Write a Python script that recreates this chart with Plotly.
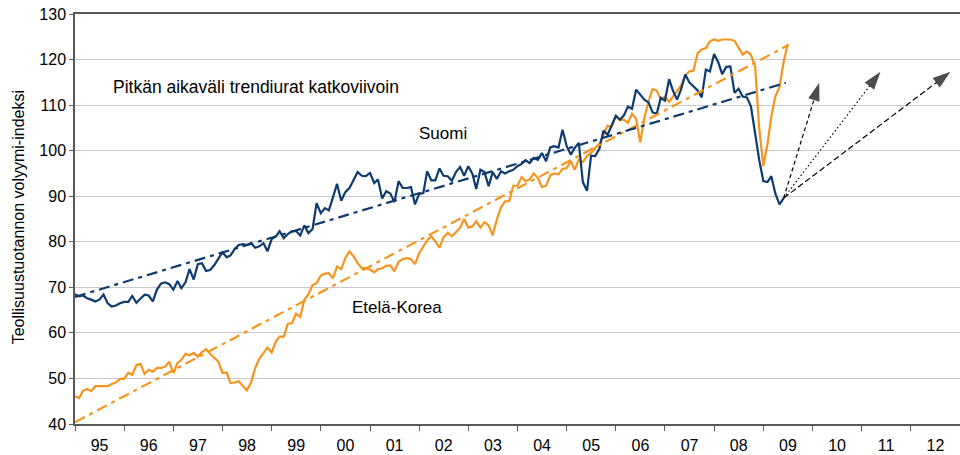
import pandas as pd
import plotly.graph_objects as go

# ---------------- data ----------------
start_month = "1995-01-01"

finland_values = [
    68.5, 68.0, 68.2, 67.6, 67.3, 66.9, 67.3, 68.4, 66.5, 65.8, 66.0, 66.5,
    66.8, 66.8, 68.1, 66.6, 67.5, 68.4, 68.2, 66.9, 69.5, 70.8, 71.1, 70.7,
    69.5, 71.4, 69.8, 71.1, 74.0, 71.7, 75.1, 75.3, 73.6, 73.8, 74.9, 76.2,
    77.7, 76.6, 77.0, 78.4, 79.3, 79.5, 79.3, 79.7, 78.7, 79.0, 79.7, 77.9,
    80.6, 81.2, 82.3, 80.8, 81.7, 82.3, 82.4, 81.4, 83.6, 81.9, 82.8, 88.5,
    86.3, 87.4, 86.9, 89.8, 92.7, 89.0, 90.9, 91.8, 93.7, 95.3, 94.5, 94.4,
    95.1, 92.9, 93.7, 89.5, 91.1, 90.6, 88.7, 93.3, 91.8, 91.8, 92.0, 88.2,
    90.5, 90.7, 95.5, 93.5, 93.5, 96.1, 94.5, 94.4, 93.4, 95.3, 96.4, 94.5,
    96.6, 94.9, 91.6, 95.8, 95.3, 92.2, 95.3, 93.8, 95.5, 95.0, 95.5, 95.8,
    96.6, 97.1, 97.9, 97.3, 98.4, 98.0, 99.5, 97.7, 100.7, 101.0, 100.7, 104.6,
    101.0, 99.1, 100.6, 101.7, 93.1, 91.2, 98.9, 98.8, 100.4, 104.4, 103.5, 105.5,
    107.7, 106.8, 107.7, 109.7, 109.2, 113.4, 112.3, 111.2, 110.6, 108.4, 108.1, 111.6,
    111.0, 115.7, 113.2, 111.2, 113.5, 116.7, 115.0, 114.1, 113.2, 111.7, 117.8, 117.4,
    121.2, 119.4, 116.8, 118.4, 118.5, 112.7, 113.6, 111.9, 111.7, 109.7, 103.9, 98.0,
    93.3, 93.1, 94.4, 90.5, 88.2, 89.6,
]

korea_values = [
    46.1, 45.7, 47.3, 47.7, 47.2, 48.3, 48.3, 48.3, 48.3, 48.8, 49.1, 49.9,
    49.9, 51.2, 50.8, 52.9, 53.2, 51.0, 51.9, 51.5, 52.3, 52.3, 52.6, 53.7,
    51.2, 53.4, 54.1, 55.4, 55.1, 55.6, 54.8, 55.8, 56.4, 55.4, 54.6, 53.7,
    51.2, 51.3, 49.0, 49.1, 49.4, 48.4, 47.4, 49.1, 52.3, 54.3, 55.7, 56.8,
    55.7, 58.1, 59.2, 59.2, 62.0, 62.1, 64.2, 63.5, 67.3, 68.5, 70.5, 70.9,
    72.6, 73.0, 73.1, 72.0, 74.6, 74.0, 76.4, 77.9, 76.8, 75.3, 74.2, 74.2,
    73.9, 73.3, 74.0, 74.2, 74.7, 74.8, 73.5, 75.6, 76.2, 76.4, 76.2, 75.1,
    77.5, 79.0, 80.3, 81.2, 80.1, 78.7, 81.0, 82.0, 81.2, 82.1, 83.1, 85.0,
    83.1, 83.4, 84.5, 83.1, 84.3, 83.6, 81.4, 84.9, 87.6, 88.9, 88.9, 92.3,
    92.3, 94.2, 93.3, 93.7, 95.0, 94.0, 92.0, 92.3, 94.6, 95.0, 94.8, 96.0,
    96.2, 97.7, 95.8, 98.0, 97.5, 98.8, 99.5, 100.6, 101.5, 103.5, 105.5, 105.2,
    107.5, 106.7, 106.8, 106.1, 108.1, 107.0, 101.8, 107.2, 110.8, 113.5, 113.2, 111.2,
    111.9, 110.7, 111.9, 113.2, 114.3, 116.5, 117.4, 117.6, 121.4, 122.2, 122.5, 124.0,
    124.4, 124.1, 124.4, 124.4, 124.4, 124.1, 122.5, 121.1, 121.8, 121.0, 118.5, 105.0,
    96.6, 101.5, 107.5, 112.0, 114.0, 119.5, 123.4,
]

# long-term trend lines (start / end)
finland_trend_dates = ["1995-01-01", "2009-06-17"]
finland_trend_values = [67.9, 114.9]
korea_trend_dates = ["1995-01-01", "2009-07-08"]
korea_trend_values = [40.4, 123.2]

# recovery scenario arrows (end points; start at Finland's last value)
arrow_end_dates = ["2010-02-20", "2011-05-21", "2012-10-23"]
arrow_end_values = [114.9, 117.3, 117.3]
arrow_dashes = ["4px,3px", "1.5px,2.5px", "6px,3px"]

year_tick_labels_fmt = "%y"
y_axis_title = "Teollisuustuotannon volyymi-indeksi"
label_note = "Pitkän aikaväli trendiurat katkoviivoin"
label_fi = "Suomi"
label_kr = "Etelä-Korea"

# ---------------- figure ----------------
BLUE = "#0d3b6e"
ORANGE = "#f7941e"
AXIS = "#595959"
FONT = "Liberation Sans, Arial, sans-serif"

fi_dates = pd.date_range(start_month, periods=len(finland_values), freq="MS")
kr_dates = pd.date_range(start_month, periods=len(korea_values), freq="MS")

fig = go.Figure()

fig.add_trace(go.Scatter(x=kr_dates, y=korea_values, mode="lines",
                         line=dict(color=ORANGE, width=2.2), hoverinfo="skip"))
fig.add_trace(go.Scatter(x=fi_dates, y=finland_values, mode="lines",
                         line=dict(color=BLUE, width=2.2), hoverinfo="skip"))
fig.add_trace(go.Scatter(x=korea_trend_dates, y=korea_trend_values, mode="lines",
                         line=dict(color=ORANGE, width=2.2, dash="11px,5px,4px,5px"),
                         hoverinfo="skip"))
fig.add_trace(go.Scatter(x=finland_trend_dates, y=finland_trend_values, mode="lines",
                         line=dict(color=BLUE, width=2.2, dash="11px,5px,4px,5px"),
                         hoverinfo="skip"))

arrow_start_date = fi_dates[-1]
arrow_start_value = finland_values[-1]
for d, v, dash in zip(arrow_end_dates, arrow_end_values, arrow_dashes):
    fig.add_trace(go.Scatter(
        x=[arrow_start_date, pd.Timestamp(d)], y=[arrow_start_value, v],
        mode="lines+markers",
        line=dict(color="black", width=1.2, dash=dash),
        marker=dict(symbol="arrow", angleref="previous", size=[0, 19],
                    color="black", line=dict(width=0)),
        hoverinfo="skip"))

fig.update_layout(
    width=960, height=455,
    margin=dict(l=75, r=0, t=14, b=31, pad=0, autoexpand=False),
    paper_bgcolor="white", plot_bgcolor="white",
    showlegend=False,
    font=dict(family=FONT, size=16, color="black"),
    xaxis=dict(
        type="date", range=["1995-01-01", "2013-01-01"],
        tick0="1995-01-01", dtick="M12", tickformat=year_tick_labels_fmt,
        ticklabelmode="period", ticks="outside", ticklen=5, tickwidth=1.3,
        tickcolor=AXIS, showline=True, linecolor=AXIS, linewidth=1.5,
        mirror=True, showgrid=False, zeroline=False, automargin=False,
        tickfont=dict(size=16, color="black"), ticklabelstandoff=1,
    ),
    yaxis=dict(
        range=[40, 130], dtick=10, tick0=40,
        showgrid=True, gridcolor="#c8c8c8", gridwidth=1.3,
        ticks="outside", ticklen=4, tickwidth=1.3, tickcolor=AXIS,
        showline=True, linecolor=AXIS, linewidth=1.5, zeroline=False,
        automargin=False,
        tickfont=dict(size=16, color="black"),
    ),
    annotations=[
        dict(text=y_axis_title, xref="paper", yref="paper",
             x=-0.0644, y=0.504, textangle=-90, showarrow=False,
             xanchor="center", yanchor="middle", font=dict(size=16)),
        dict(text=label_note, xref="x", yref="y", x="1995-09-25", y=113.9,
             xanchor="left", yanchor="middle", showarrow=False,
             font=dict(size=17.5)),
        dict(text=label_fi, xref="x", yref="y", x="2002-06-29", y=103.8,
             xanchor="center", yanchor="middle", showarrow=False,
             font=dict(size=17)),
        dict(text=label_kr, xref="x", yref="y", x="2001-07-23", y=65.6,
             xanchor="center", yanchor="middle", showarrow=False,
             font=dict(size=17)),
    ],
)

fig.write_html(
    "out.html",
    config={"displayModeBar": False},
    post_script="document.body.style.margin='0px';document.body.style.overflow='hidden';",
)
